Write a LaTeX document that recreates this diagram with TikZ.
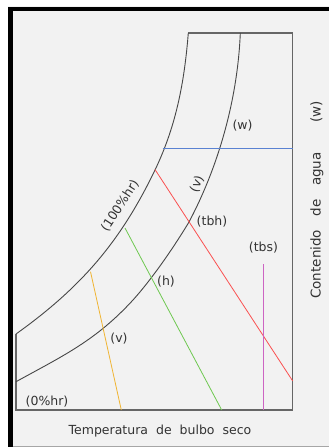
\documentclass[tikz,border=0pt]{standalone}
\usepackage{fontspec}
\setmainfont{DejaVu Sans}
\newcommand\mywidesp{\spaceskip 8pt\relax}
\newcommand\mywidespb{\spaceskip 13.5pt\relax}
\begin{document}
\begin{tikzpicture}[x=1pt,y=-1pt,
  curve/.style={draw=black!72, line width=0.9pt},
  boxline/.style={draw=black!60, line width=1.1pt},
  lbl/.style={text=black!80, inner sep=0pt, font=\fontsize{12.5}{14}\selectfont},
  axlbl/.style={text=black!80, inner sep=0pt, font=\fontsize{12.5}{14}\selectfont\mywidesp},
  aylbl/.style={text=black!80, inner sep=0pt, font=\fontsize{13.5}{15}\selectfont\mywidespb}]
\useasboundingbox (0,0) rectangle (329,447);
\fill[white] (0,0) rectangle (329,447);
\fill[black!5] (8,6) rectangle (329,447);
\fill[black] (8,6.5) rectangle (329,11);
\fill[black] (8,6.5) rectangle (12.5,447);
\draw[black!35, line width=1pt] (12.5,446) -- (329,446);
% coordinates
\coordinate (tl) at (188.3,33);
\coordinate (tm) at (240.3,33);
\coordinate (tr) at (292.7,33);
\coordinate (br) at (292.7,410);
\coordinate (bl) at (16,410);
\coordinate (lo) at (16,334);
\coordinate (li) at (16,381.7);
% plot frame
\draw[boxline] (tl) -- (tr) -- (br) -- (bl) -- (lo);
% 100% hr curve
\draw[curve] (tl) .. controls (184.6,79) and (177.1,124) .. (155,170)
  .. controls (120.4,242) and (81,287.5) .. (lo);
% inner curve
\draw[curve] (tm) .. controls (237.7,98) and (219,165.3) .. (189,222)
  .. controls (177,242) and (154.6,276) .. (133,300)
  .. controls (95.8,340.5) and (64.2,355.2) .. (li);
% colored lines
\coordinate (b1) at (162.5,148);
\coordinate (b2) at (292.7,148);
\coordinate (r1) at (155,169.5);
\coordinate (r2) at (292.7,381);
\coordinate (g1) at (125,228);
\coordinate (g2) at (221.7,410);
\coordinate (o1) at (90.5,271.7);
\coordinate (o2) at (121.3,410);
\coordinate (m1) at (263.3,264);
\coordinate (m2) at (263.3,410);
\draw[color={rgb,255:red,90;green,130;blue,210}, line width=0.9pt] (b1) -- (b2);
\draw[color={rgb,255:red,250;green,80;blue,80}, line width=0.8pt] (r1) -- (r2);
\draw[color={rgb,255:red,110;green,200;blue,80}, line width=0.8pt] (g1) -- (g2);
\draw[color={rgb,255:red,240;green,180;blue,50}, line width=0.8pt] (o1) -- (o2);
\draw[color={rgb,255:red,205;green,100;blue,195}, line width=1pt] (m1) -- (m2);
% labels
\node[lbl] (lw) at (242.5,126) {(w)};
\node[lbl, rotate=68] (lv1) at (197,184) {(v)};
\node[lbl, rotate=57] (lhr) at (120,206) {(100\%hr)};
\node[lbl] (ltbh) at (212,222) {(tbh)};
\node[lbl] (ltbs) at (263.5,248) {(tbs)};
\node[lbl] (lh) at (166,282) {(h)};
\node[lbl] (lv2) at (119,339) {(v)};
\node[lbl] (l0) at (47,402) {(0\%hr)};
\node[axlbl] (lx) at (160,431) {Temperatura de bulbo seco};
\node[aylbl, rotate=90] (ly) at (317,200) {Contenido de agua\hspace{16pt} (w)};
\end{tikzpicture}
\end{document}
